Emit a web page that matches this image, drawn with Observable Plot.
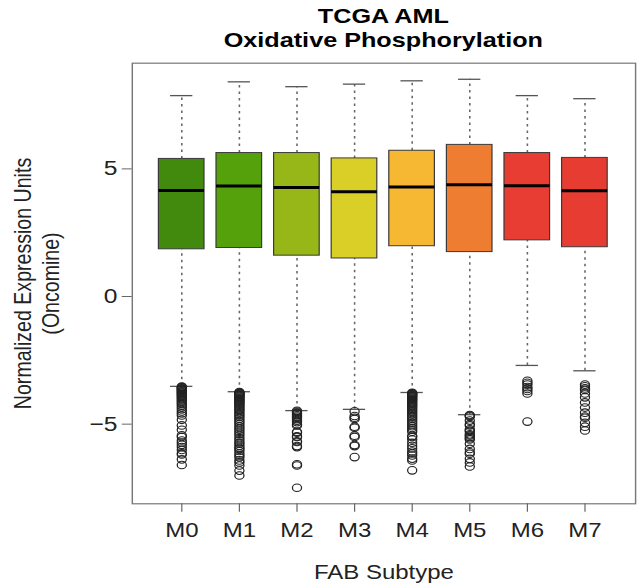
<!DOCTYPE html>
<html><head><meta charset="utf-8">
<script src="https://cdn.jsdelivr.net/npm/d3@7"></script>
<script src="https://cdn.jsdelivr.net/npm/@observablehq/plot@0.6"></script>
<style>
html,body{margin:0;padding:0;background:#fff;}
#wrap{width:533.333px;transform:scaleX(1.2);transform-origin:0 0;font-family:"Liberation Sans",Arial,Helvetica,sans-serif;}
#title{box-sizing:border-box;height:50px;padding:4px 4.17px 0 109.75px;text-align:center;font-weight:bold;font-size:21px;line-height:24px;color:#000;}
#chart svg{display:block;}
</style></head><body>
<div id="wrap"><div id="title"><div id="t1"></div><div id="t2"></div></div><div id="chart"></div></div>
<script>
// ---- data ----
const titleLines = ["TCGA AML", "Oxidative Phosphorylation"];
const yLabel = "Normalized Expression Units\n(Oncomine)";
const xLabel = "FAB Subtype";
const subtypes = ["M0", "M1", "M2", "M3", "M4", "M5", "M6", "M7"];
const whiskerLow  = [-3.52, -3.73, -4.47, -4.42, -3.76, -4.63, -2.70, -2.91];
const q1          = [ 1.85,  1.90,  1.60,  1.49,  1.97,  1.74,  2.20,  1.93];
const medians     = [ 4.15,  4.33,  4.27,  4.10,  4.29,  4.38,  4.34,  4.14];
const q3          = [ 5.39,  5.62,  5.62,  5.41,  5.71,  5.94,  5.62,  5.43];
const whiskerHigh = [ 7.87,  8.41,  8.22,  8.32,  8.45,  8.51,  7.87,  7.75];
const yTicks = [-5, 0, 5];

const outliersM0 = [-3.53, -3.55, -3.57, -3.6, -3.62, -3.65, -3.68, -3.71, -3.74, -3.77, -3.8, -3.83, -3.87, -3.9, -3.94, -3.98, -4.02, -4.07, -4.12, -4.17, -4.22, -4.28, -4.35, -4.42, -4.5, -4.58, -4.66, -4.83, -5.05, -5.22, -5.44, -5.5, -5.64, -5.72, -5.81, -5.9, -6.01, -6.14, -6.19, -6.38, -6.6];
const outliersM1 = [-3.74, -3.76, -3.78, -3.8, -3.82, -3.85, -3.87, -3.9, -3.93, -3.96, -3.99, -4.02, -4.05, -4.09, -4.12, -4.16, -4.2, -4.24, -4.28, -4.33, -4.38, -4.43, -4.48, -4.54, -4.6, -4.66, -4.72, -4.79, -4.86, -4.93, -5.0, -5.08, -5.15, -5.22, -5.3, -5.38, -5.46, -5.55, -5.63, -5.72, -5.77, -5.85, -5.93, -5.97, -6.05, -6.15, -6.23, -6.3, -6.42, -6.5, -6.62, -6.82, -7.01];
const outliersM2 = [-4.48, -4.52, -4.56, -4.6, -4.65, -4.7, -4.75, -4.8, -4.86, -4.92, -5.0, -5.05, -5.3, -5.33, -5.48, -5.5, -5.67, -5.7, -5.86, -5.9, -6.57, -6.62, -7.49];
const outliersM3 = [-4.5, -4.68, -4.75, -4.8, -5.1, -5.14, -5.45, -5.5, -5.82, -5.86, -6.29];
const outliersM4 = [-3.77, -3.79, -3.81, -3.83, -3.86, -3.88, -3.91, -3.94, -3.97, -4.0, -4.03, -4.06, -4.1, -4.14, -4.18, -4.22, -4.26, -4.3, -4.35, -4.4, -4.45, -4.5, -4.56, -4.62, -4.68, -4.74, -4.8, -4.87, -4.94, -5.01, -5.08, -5.15, -5.22, -5.3, -5.46, -5.5, -5.6, -5.73, -5.85, -5.95, -6.07, -6.15, -6.23, -6.35, -6.42, -6.81];
const outliersM5 = [-4.64, -4.67, -4.7, -4.86, -5.0, -5.05, -5.2, -5.25, -5.3, -5.4, -5.44, -5.5, -5.55, -5.6, -5.77, -5.97, -6.1, -6.16, -6.36, -6.5, -6.66];
const outliersM6 = [-3.3, -3.38, -3.45, -3.55, -3.62, -3.7, -3.8, -4.9];
const outliersM7 = [-3.45, -3.52, -3.6, -3.66, -3.8, -3.95, -4.15, -4.35, -4.55, -4.7, -4.75, -4.95, -5.1, -5.25];

const boxColors = ["#418a0e", "#55a10b", "#97b617", "#dacf27", "#f6b733", "#ee7c31", "#e83d32", "#e73c31"];

// ---- build tables ----
const stats = subtypes.map((g, i) => ({group: g, lo: whiskerLow[i], q1: q1[i], median: medians[i], q3: q3[i], hi: whiskerHigh[i]}));
const outliers = [outliersM0, outliersM1, outliersM2, outliersM3, outliersM4, outliersM5, outliersM6, outliersM7]
  .flatMap((vals, i) => vals.map(v => ({group: subtypes[i], value: v})));

document.getElementById("t1").textContent = titleLines[0];
document.getElementById("t2").textContent = titleLines[1];

// ---- layout ----
const W = 640 / 1.2, H = 534;
const mL = 109.75, mR = 4.17, mT = 12.7, mB = 80.7;
const unit = (W - mL - mR) / 8.64;
const bw = 0.8 * unit;
const font = "'Liberation Sans', Arial, Helvetica, sans-serif";

const chart = Plot.plot({
  width: W, height: H,
  marginLeft: mL, marginRight: mR, marginTop: mT, marginBottom: mB,
  style: {fontFamily: font, fontSize: "20px", color: "#222", background: "white", overflow: "visible"},
  x: {type: "band", domain: subtypes, paddingInner: 0.2, paddingOuter: 0.1, inset: 0.32 * unit, label: null},
  y: {domain: [-8.12, 9.14], label: null},
  color: {type: "ordinal", domain: subtypes, range: boxColors},
  marks: [
    Plot.frame({stroke: "#777", strokeWidth: 1.2}),
    Plot.axisY({ticks: yTicks, tickSize: 8.3, tickPadding: 4, stroke: "#666", fill: "#222", fontSize: 20.5, label: null}),
    Plot.axisX({tickSize: 8.5, tickPadding: 11, stroke: "#666", fill: "#222", fontSize: 20, label: null}),
    Plot.ruleX(stats, {x: "group", y1: "q3", y2: "hi", stroke: "#666", strokeWidth: 1.3, strokeDasharray: "2.5,4"}),
    Plot.ruleX(stats, {x: "group", y1: "lo", y2: "q1", stroke: "#666", strokeWidth: 1.3, strokeDasharray: "2.5,4"}),
    Plot.tickY(stats, {x: "group", y: "hi", insetLeft: bw / 4, insetRight: bw / 4, stroke: "#555", strokeWidth: 1.3}),
    Plot.tickY(stats, {x: "group", y: "lo", insetLeft: bw / 4, insetRight: bw / 4, stroke: "#555", strokeWidth: 1.3}),
    Plot.barY(stats, {x: "group", y1: "q1", y2: "q3", fill: "group", stroke: "#3a3a3a", strokeWidth: 1, inset: 0}),
    Plot.tickY(stats, {x: "group", y: "median", stroke: "#000", strokeWidth: 3}),
    Plot.dot(outliers, {x: "group", y: "value", r: 3.8, stroke: "#222", strokeWidth: 1.05, fill: "none"}),
    Plot.text([yLabel], {frameAnchor: "left", rotate: -90, dx: -80, textAnchor: "middle", lineAnchor: "middle", lineHeight: 1.2, fontSize: 19.6, text: d => d, fill: "#222"}),
    Plot.text([xLabel], {frameAnchor: "bottom", dy: 61.5, textAnchor: "middle", lineAnchor: "top", fontSize: 20, text: d => d, fill: "#222"})
  ]
});
document.getElementById("chart").appendChild(chart);
</script>
</body></html>
